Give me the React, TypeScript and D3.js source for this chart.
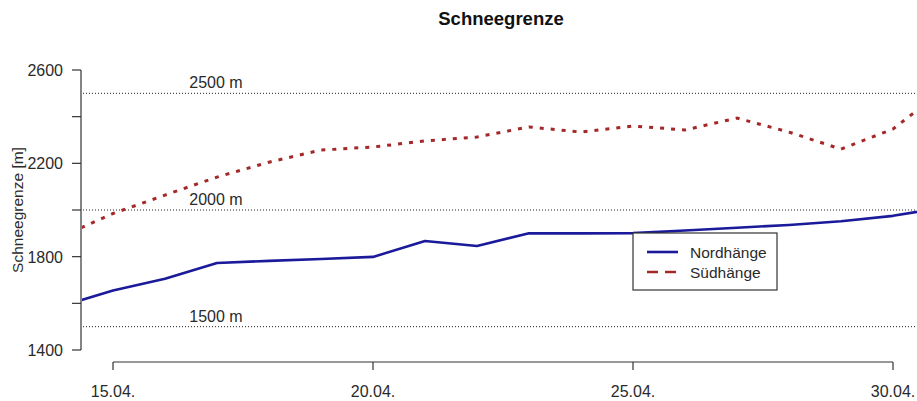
import React, { useEffect, useRef } from 'react';
import * as d3 from 'd3';

// days of April
const days = [14, 15, 16, 17, 18, 19, 20, 21, 22, 23, 24, 25, 26, 27, 28, 29, 30, 31];
const nord = [1588, 1655, 1705, 1773, 1782, 1790, 1799, 1867, 1846, 1900, 1900, 1901, 1912, 1924, 1936, 1952, 1975, 2012];
const sued = [1885, 1985, 2064, 2141, 2205, 2257, 2270, 2296, 2313, 2356, 2334, 2360, 2343, 2394, 2334, 2261, 2347, 2520];
const xTicks = [15, 20, 25, 30];
const yTicks = [1400, 1600, 1800, 2000, 2200, 2400, 2600];
const yTickLabels = [1400, 1800, 2200, 2600];
const refLines = [2500, 2000, 1500];

const W = 917;
const H = 401;

export default function App() {
    const svgRef = useRef<SVGSVGElement | null>(null);

    useEffect(() => {
        const svg = d3.select(svgRef.current);
        svg.selectAll('*').remove();

        const font = 'Liberation Sans, Arial, sans-serif';
        const txt = '#2a2a2a';
        const left = 81;
        const x = d3.scaleLinear().domain([15, 30]).range([113, 893]);
        const y = d3.scaleLinear().domain([1400, 2600]).range([350, 70]);

        svg.append('defs')
            .append('clipPath')
            .attr('id', 'plotclip')
            .append('rect')
            .attr('x', left + 1)
            .attr('y', 60)
            .attr('width', W - left)
            .attr('height', 295);

        // title
        svg.append('text')
            .attr('x', 501)
            .attr('y', 25)
            .attr('text-anchor', 'middle')
            .style('font-family', font)
            .style('font-size', '18.5px')
            .style('font-weight', 'bold')
            .style('fill', '#111')
            .text('Schneegrenze');

        // reference lines
        const ref = svg.append('g');
        refLines.forEach(v => {
            ref.append('line')
                .attr('x1', left + 2)
                .attr('x2', W)
                .attr('y1', y(v))
                .attr('y2', y(v))
                .attr('stroke', '#222')
                .attr('stroke-width', 1)
                .attr('stroke-dasharray', '1,2');
            ref.append('text')
                .attr('x', 216)
                .attr('y', y(v) - 5)
                .attr('text-anchor', 'middle')
                .style('font-family', font)
                .style('font-size', '16px')
                .style('fill', txt)
                .text(`${v} m`);
        });

        // y axis
        const yAxis = svg.append('g').attr('transform', `translate(${left},0)`);
        yAxis.append('line')
            .attr('y1', y(1400)).attr('y2', y(2600))
            .attr('stroke', '#333').attr('stroke-width', 1.2);
        yTicks.forEach(t => {
            yAxis.append('line')
                .attr('x1', -9).attr('x2', 0)
                .attr('y1', y(t)).attr('y2', y(t))
                .attr('stroke', '#333').attr('stroke-width', 1.2);
        });
        yTickLabels.forEach(t => {
            yAxis.append('text')
                .attr('x', -18)
                .attr('y', y(t) + 6)
                .attr('text-anchor', 'end')
                .style('font-family', font)
                .style('font-size', '16px')
                .style('fill', txt)
                .text(t);
        });
        svg.append('text')
            .attr('transform', `translate(23,${y(2000)}) rotate(-90)`)
            .attr('text-anchor', 'middle')
            .style('font-family', font)
            .style('font-size', '15.5px')
            .style('fill', txt)
            .text('Schneegrenze [m]');

        // x axis
        const xAxis = svg.append('g').attr('transform', 'translate(0,362)');
        xAxis.append('line')
            .attr('x1', x(15)).attr('x2', x(30))
            .attr('stroke', '#333').attr('stroke-width', 1.2);
        xTicks.forEach(t => {
            xAxis.append('line')
                .attr('x1', x(t)).attr('x2', x(t))
                .attr('y1', 0).attr('y2', 8)
                .attr('stroke', '#333').attr('stroke-width', 1.2);
            xAxis.append('text')
                .attr('x', x(t))
                .attr('y', 35)
                .attr('text-anchor', 'middle')
                .style('font-family', font)
                .style('font-size', '16px')
                .style('fill', txt)
                .text(`${t}.04.`);
        });

        // series
        const plot = svg.append('g').attr('clip-path', 'url(#plotclip)');
        const line = d3.line<number>()
            .x((_, i) => x(days[i]))
            .y(d => y(d));

        plot.append('path')
            .datum(sued)
            .attr('d', line)
            .attr('fill', 'none')
            .attr('stroke', '#a52828')
            .attr('stroke-width', 3)
            .attr('stroke-dasharray', '4,7');

        plot.append('path')
            .datum(nord)
            .attr('d', line)
            .attr('fill', 'none')
            .attr('stroke', '#1a1a9a')
            .attr('stroke-width', 2.6)
            .attr('stroke-linejoin', 'round');

        // legend
        const lg = svg.append('g').attr('transform', 'translate(633,233)');
        lg.append('rect')
            .attr('width', 144).attr('height', 57)
            .attr('fill', 'white').attr('stroke', '#333').attr('stroke-width', 1.2);
        const items = [
            { label: 'Nordhänge', color: '#1a1a9a', dash: null },
            { label: 'Südhänge', color: '#a52828', dash: '11,7' },
        ];
        items.forEach((it, i) => {
            const yy = 19 + i * 20;
            lg.append('line')
                .attr('x1', 14).attr('x2', 45)
                .attr('y1', yy).attr('y2', yy)
                .attr('stroke', it.color)
                .attr('stroke-width', 2.6)
                .attr('stroke-dasharray', it.dash);
            lg.append('text')
                .attr('x', 57)
                .attr('y', yy + 6)
                .style('font-family', font)
                .style('font-size', '15.5px')
                .style('fill', txt)
                .text(it.label);
        });
    }, []);

    return (
        <div style={{ position: 'fixed', left: 0, top: 0, background: 'white' }}>
            <svg ref={svgRef} width={W} height={H} style={{ display: 'block' }} />
        </div>
    );
}
